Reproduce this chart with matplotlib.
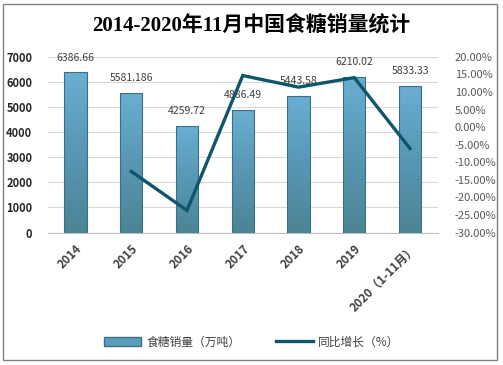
import matplotlib.pyplot as plt
import numpy as np
from matplotlib.patches import Rectangle
from matplotlib.lines import Line2D
from matplotlib.colors import LinearSegmentedColormap

plt.rcParams['font.family'] = ['Noto Sans CJK SC', 'DejaVu Sans']

# data
years = ['2014', '2015', '2016', '2017', '2018', '2019', '2020（1-11月）']
sales = [6386.66, 5581.186, 4259.72, 4886.49, 5443.58, 6210.02, 5833.33]
sales_labels = ['6386.66', '5581.186', '4259.72', '4886.49', '5443.58', '6210.02', '5833.33']
growth = [None, -12.6, -23.7, 14.7, 11.4, 14.1, -6.1]

fig = plt.figure(figsize=(5.03, 3.65), dpi=100)
ax = fig.add_axes([0.0946, 0.363, 0.776, 0.481])
ax2 = ax.twinx()

x = np.arange(len(years))
bar_col = '#5a9cbb'
cmap = LinearSegmentedColormap.from_list('bar', ['#4c8494', '#5897b4', '#6aaed3'])
bars = ax.bar(x, sales, width=0.4, color='none', edgecolor='#3d6f84', linewidth=0.8, zorder=3)
grad = np.linspace(0, 1, 256).reshape(-1, 1)
for b in bars:
    x0 = b.get_x()
    im = ax.imshow(grad, extent=[x0, x0 + b.get_width(), 0, b.get_height()],
                   origin='lower', aspect='auto', cmap=cmap, zorder=2)
    im.set_clip_path(b)
for xi, v, s in zip(x, sales, sales_labels):
    ax.annotate(s, (xi, v), xytext=(0, 7), textcoords='offset points',
                ha='center', va='bottom', fontsize=7.5, color='#404040', zorder=4)

ax.set_xlim(-0.5, len(years) - 0.5)
ax.set_ylim(0, 7000)
ax.set_yticks(range(0, 7001, 1000))
ax.grid(axis='y', color='#d9d9d9', linewidth=0.8, zorder=0)
ax.set_axisbelow(True)
for sp in ['top', 'right', 'left']:
    ax.spines[sp].set_visible(False)
    ax2.spines[sp].set_visible(False)
ax.spines['bottom'].set_color('#bfbfbf')
ax2.spines['bottom'].set_visible(False)
ax.tick_params(axis='y', length=0, pad=11, labelsize=8, labelcolor='#262626')
for t in ax.get_yticklabels():
    t.set_fontweight('bold')
ax.set_xticks(x)
ax.set_xticklabels(years, rotation=45, ha='right', rotation_mode='anchor',
                   fontsize=8.5, fontweight='bold', color='#404040')
ax.tick_params(axis='x', length=0, pad=7)

gx = [xi for xi, g in zip(x, growth) if g is not None]
gy = [g for g in growth if g is not None]
ax2.plot(gx, gy, color='#0e566b', linewidth=2.4, solid_joinstyle='miter', zorder=5)
ax2.set_ylim(-30, 20)
ax2.set_yticks(range(-30, 21, 5))
ax2.set_yticklabels(['%.2f%%' % v for v in range(-30, 21, 5)])
ax2.tick_params(axis='y', length=0, pad=12, labelsize=8, labelcolor='#595959')

fig.text(0.5, 0.928, '2014-2020年11月中国食糖销量统计', ha='center', va='center',
         fontsize=15, fontweight='bold', color='#000000',
         family=['Liberation Serif', 'Noto Sans CJK SC'])

handles = [Rectangle((0, 0), 1, 1, facecolor=bar_col, edgecolor='#3d6f84'),
           Line2D([0], [0], color='#0e566b', linewidth=2.4)]
fig.legend(handles, ['食糖销量（万吨）', '同比增长（%）'], loc='center',
           bbox_to_anchor=(0.5, 0.063), ncol=2, frameon=False, fontsize=8.5,
           handlelength=3.2, columnspacing=3, handletextpad=0.4,
           labelcolor='#404040')

fig.patches.append(Rectangle((0.006, 0.014), 0.983, 0.975, transform=fig.transFigure,
                             fill=False, edgecolor='#808080', linewidth=1))

fig.savefig('out.png', dpi=100)
